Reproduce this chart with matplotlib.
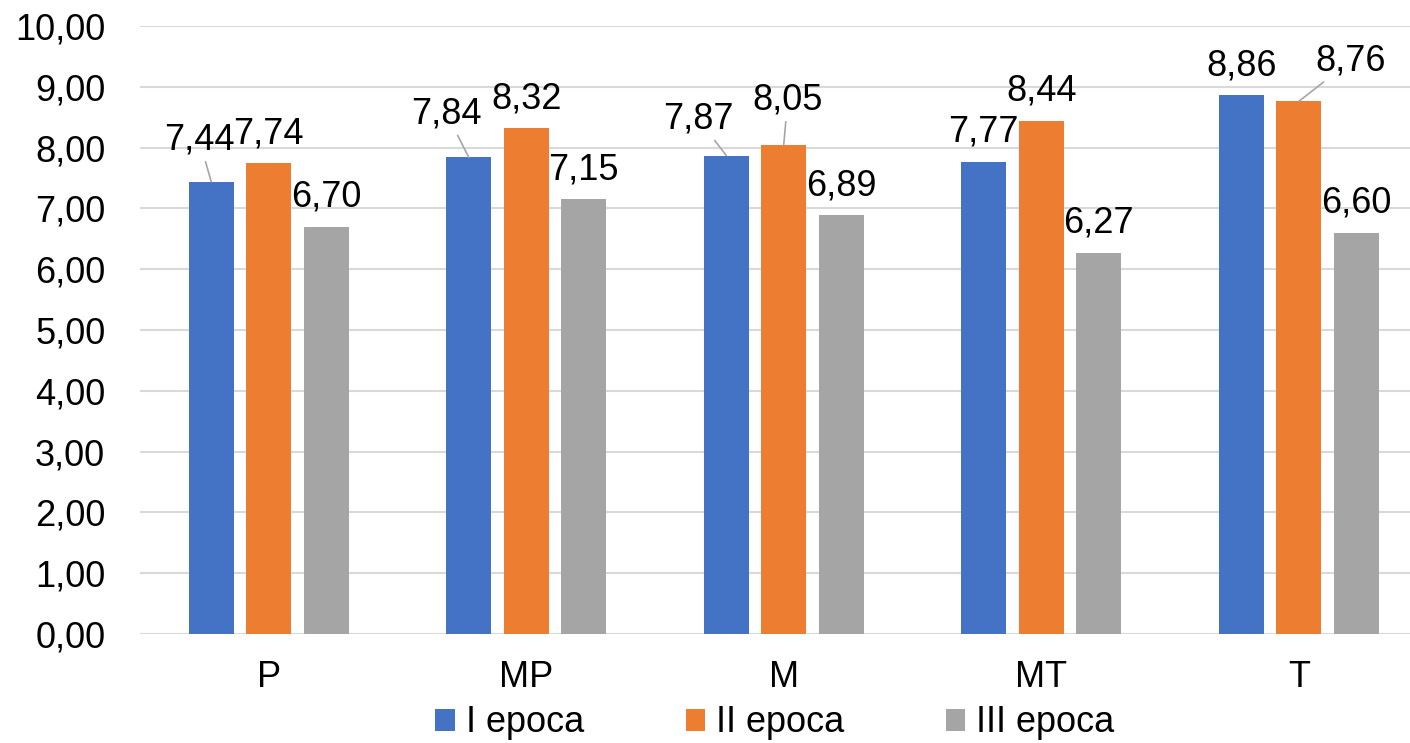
import matplotlib
matplotlib.use('Agg')
import matplotlib.pyplot as plt
import numpy as np

plt.rcParams['font.family'] = ['Liberation Sans', 'DejaVu Sans']

# dati
categorie = ['P', 'MP', 'M', 'MT', 'T']
serie = ['I epoca', 'II epoca', 'III epoca']
epoca_1 = [7.44, 7.84, 7.87, 7.77, 8.86]
epoca_2 = [7.74, 8.32, 8.05, 8.44, 8.76]
epoca_3 = [6.70, 7.15, 6.89, 6.27, 6.60]
valori = [epoca_1, epoca_2, epoca_3]
colori = ['#4472C4', '#ED7D31', '#A5A5A5']

# spostamenti delle etichette (pixel) con linea di richiamo
spostamenti = {
    (0, 0): (-12, 32), (0, 1): (-22, 34), (0, 2): (-28, 27),
    (1, 2): (4, 35), (1, 4): (52, 31),
}

fig = plt.figure(figsize=(14.10, 7.43), dpi=100)
ax = fig.add_axes([140 / 1410, 109 / 743, 1 - 140 / 1410, 608 / 743])

x = np.arange(len(categorie))
larghezza = 0.175
passo = 0.2233
fs = 26

for i, (nome, val, col) in enumerate(zip(serie, valori, colori)):
    pos = x + (i - 1) * passo
    ax.bar(pos, val, width=larghezza, color=col, label=nome, zorder=2)
    for j, (px, v) in enumerate(zip(pos, val)):
        dx, dy = spostamenti.get((i, j), (0, 20))
        testo = f'{v:.2f}'.replace('.', ',')
        if (i, j) in spostamenti:
            ax.annotate(testo, xy=(px, v), xytext=(dx, dy),
                        textcoords='offset pixels', ha='center', va='baseline',
                        fontsize=fs,
                        arrowprops=dict(arrowstyle='-', color='#A6A6A6', lw=1.2,
                                        shrinkA=1, shrinkB=0))
        else:
            ax.annotate(testo, xy=(px, v), xytext=(dx, dy),
                        textcoords='offset pixels', ha='center', va='baseline',
                        fontsize=fs)

ax.set_xlim(-0.5, -0.5 + 1270 / 257.5)
ax.set_ylim(0, 10)
ax.set_yticks(np.arange(0, 11, 1))
ax.set_yticklabels([f'{t:.2f}'.replace('.', ',') for t in np.arange(0, 11, 1)])
ax.set_xticks(x)
ax.set_xticklabels(categorie)
ax.tick_params(axis='y', length=0, pad=25, labelsize=fs)
ax.tick_params(axis='x', length=0, pad=19, labelsize=fs)
ax.grid(axis='y', color='#D9D9D9', lw=1.5, zorder=0)
for s in ax.spines.values():
    s.set_visible(False)

fig.legend(loc='center', bbox_to_anchor=(775 / 1410, 20 / 743), ncol=3,
           frameon=False, fontsize=fs, handlelength=0.55, handleheight=0.55,
           handletextpad=0.3, columnspacing=2.8, borderpad=0, borderaxespad=0)

fig.savefig('out.png', dpi=100)
